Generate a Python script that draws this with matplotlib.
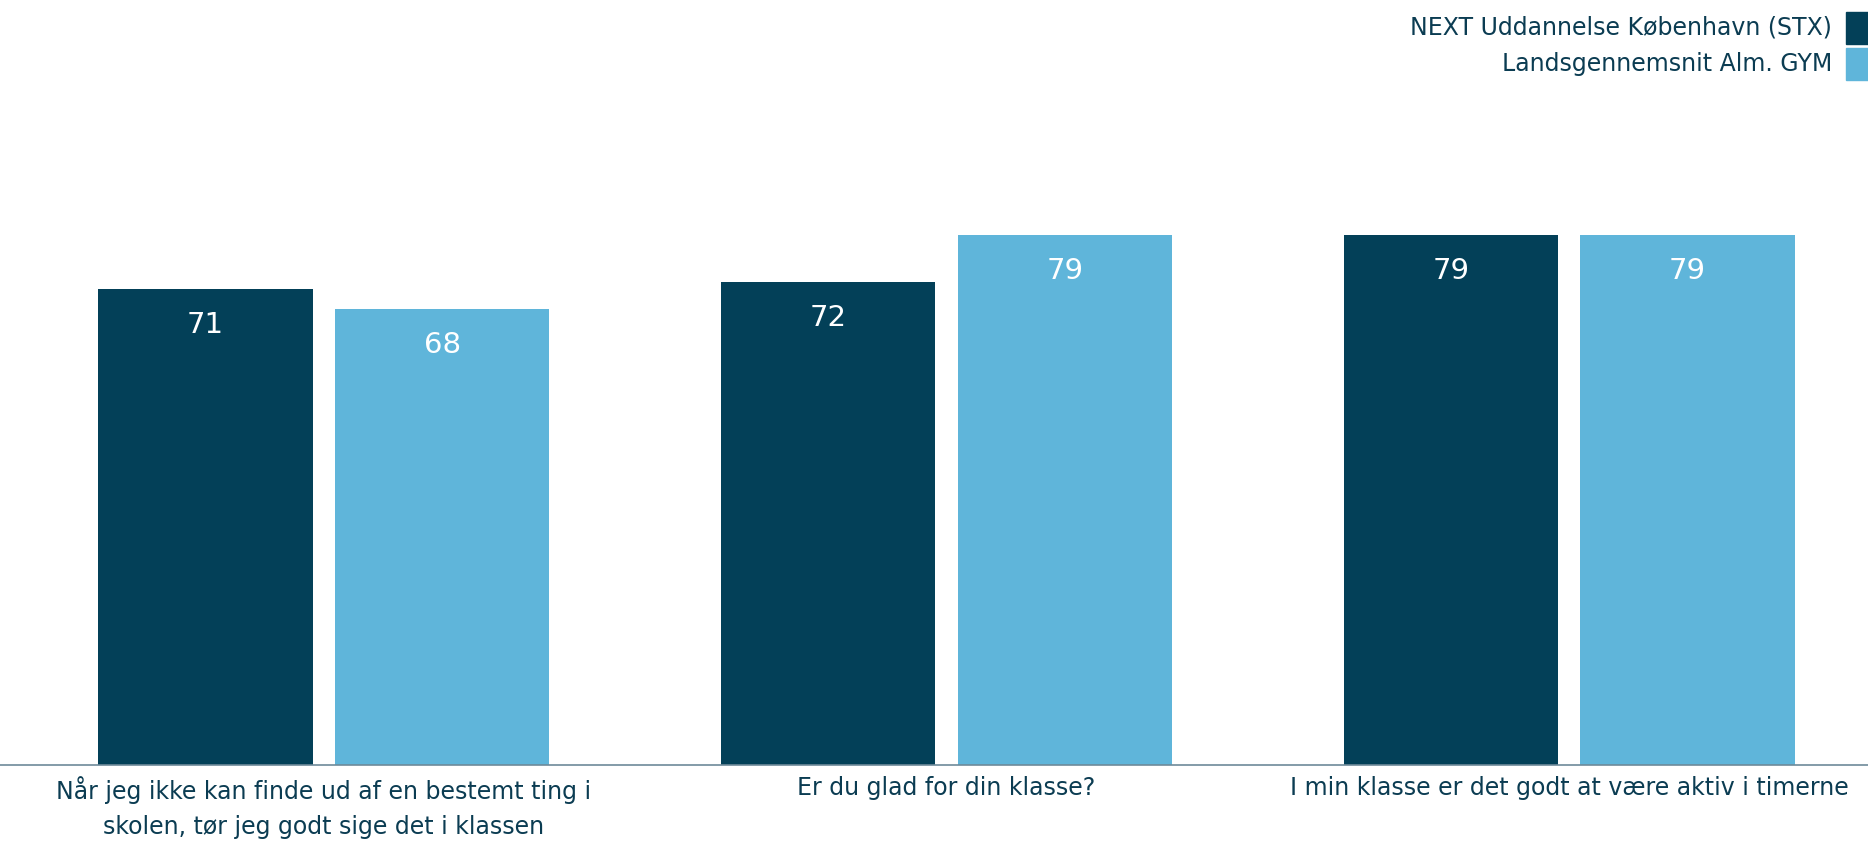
import numpy as np
import matplotlib.pyplot as plt
from matplotlib.patches import Rectangle

# data
kategorier = [
    "Når jeg ikke kan finde ud af en bestemt ting i\nskolen, tør jeg godt sige det i klassen",
    "Er du glad for din klasse?",
    "I min klasse er det godt at være aktiv i timerne",
]
serier = ["NEXT Uddannelse København (STX)", "Landsgennemsnit Alm. GYM"]
next_kbh = [71, 72, 79]
lands_gym = [68, 79, 79]

farver = ["#034058", "#5FB5DA"]
tekstfarve = "#0B3C52"

plt.rcParams['font.family'] = ['DejaVu Sans']

fig = plt.figure(figsize=(18.68, 8.41), dpi=100)
ax = fig.add_axes([0, 0.0904, 1, 0.797])

x = np.arange(len(kategorier))
bredde = 0.344
forskyd = 0.19

for i, (vaerdier, farve) in enumerate(zip([next_kbh, lands_gym], farver)):
    pos = x - forskyd if i == 0 else x + forskyd
    bars = ax.bar(pos, vaerdier, width=bredde, color=farve, zorder=2)
    for b, v in zip(bars, vaerdier):
        ax.annotate(str(v), (b.get_x() + b.get_width() / 2, v),
                    xytext=(0, -36), textcoords='offset pixels',
                    ha='center', va='center', color='white', fontsize=21)

ax.set_xlim(-0.52, 2.48)
ax.set_ylim(0, 100)
ax.set_yticks([])
for s in ['top', 'right', 'left']:
    ax.spines[s].set_visible(False)
ax.spines['bottom'].set_color('#6E8A9A')
ax.spines['bottom'].set_linewidth(1.2)
ax.set_xticks(x)
ax.set_xticklabels(kategorier, fontsize=17, color=tekstfarve, linespacing=1.6)
ax.tick_params(axis='x', length=0, pad=8)

# legend, text right-aligned with square swatch at the right edge
W, H = 1868, 841
for i, (navn, farve) in enumerate(zip(serier, farver)):
    top = 12 + i * 36
    fig.add_artist(Rectangle((1846 / W, 1 - (top + 32) / H), 22 / W, 32 / H,
                             transform=fig.transFigure, color=farve))
    fig.text(1832 / W, 1 - (top + 16) / H, navn, ha='right', va='center',
             fontsize=17, color=tekstfarve)

fig.savefig('out.png', dpi=100)
